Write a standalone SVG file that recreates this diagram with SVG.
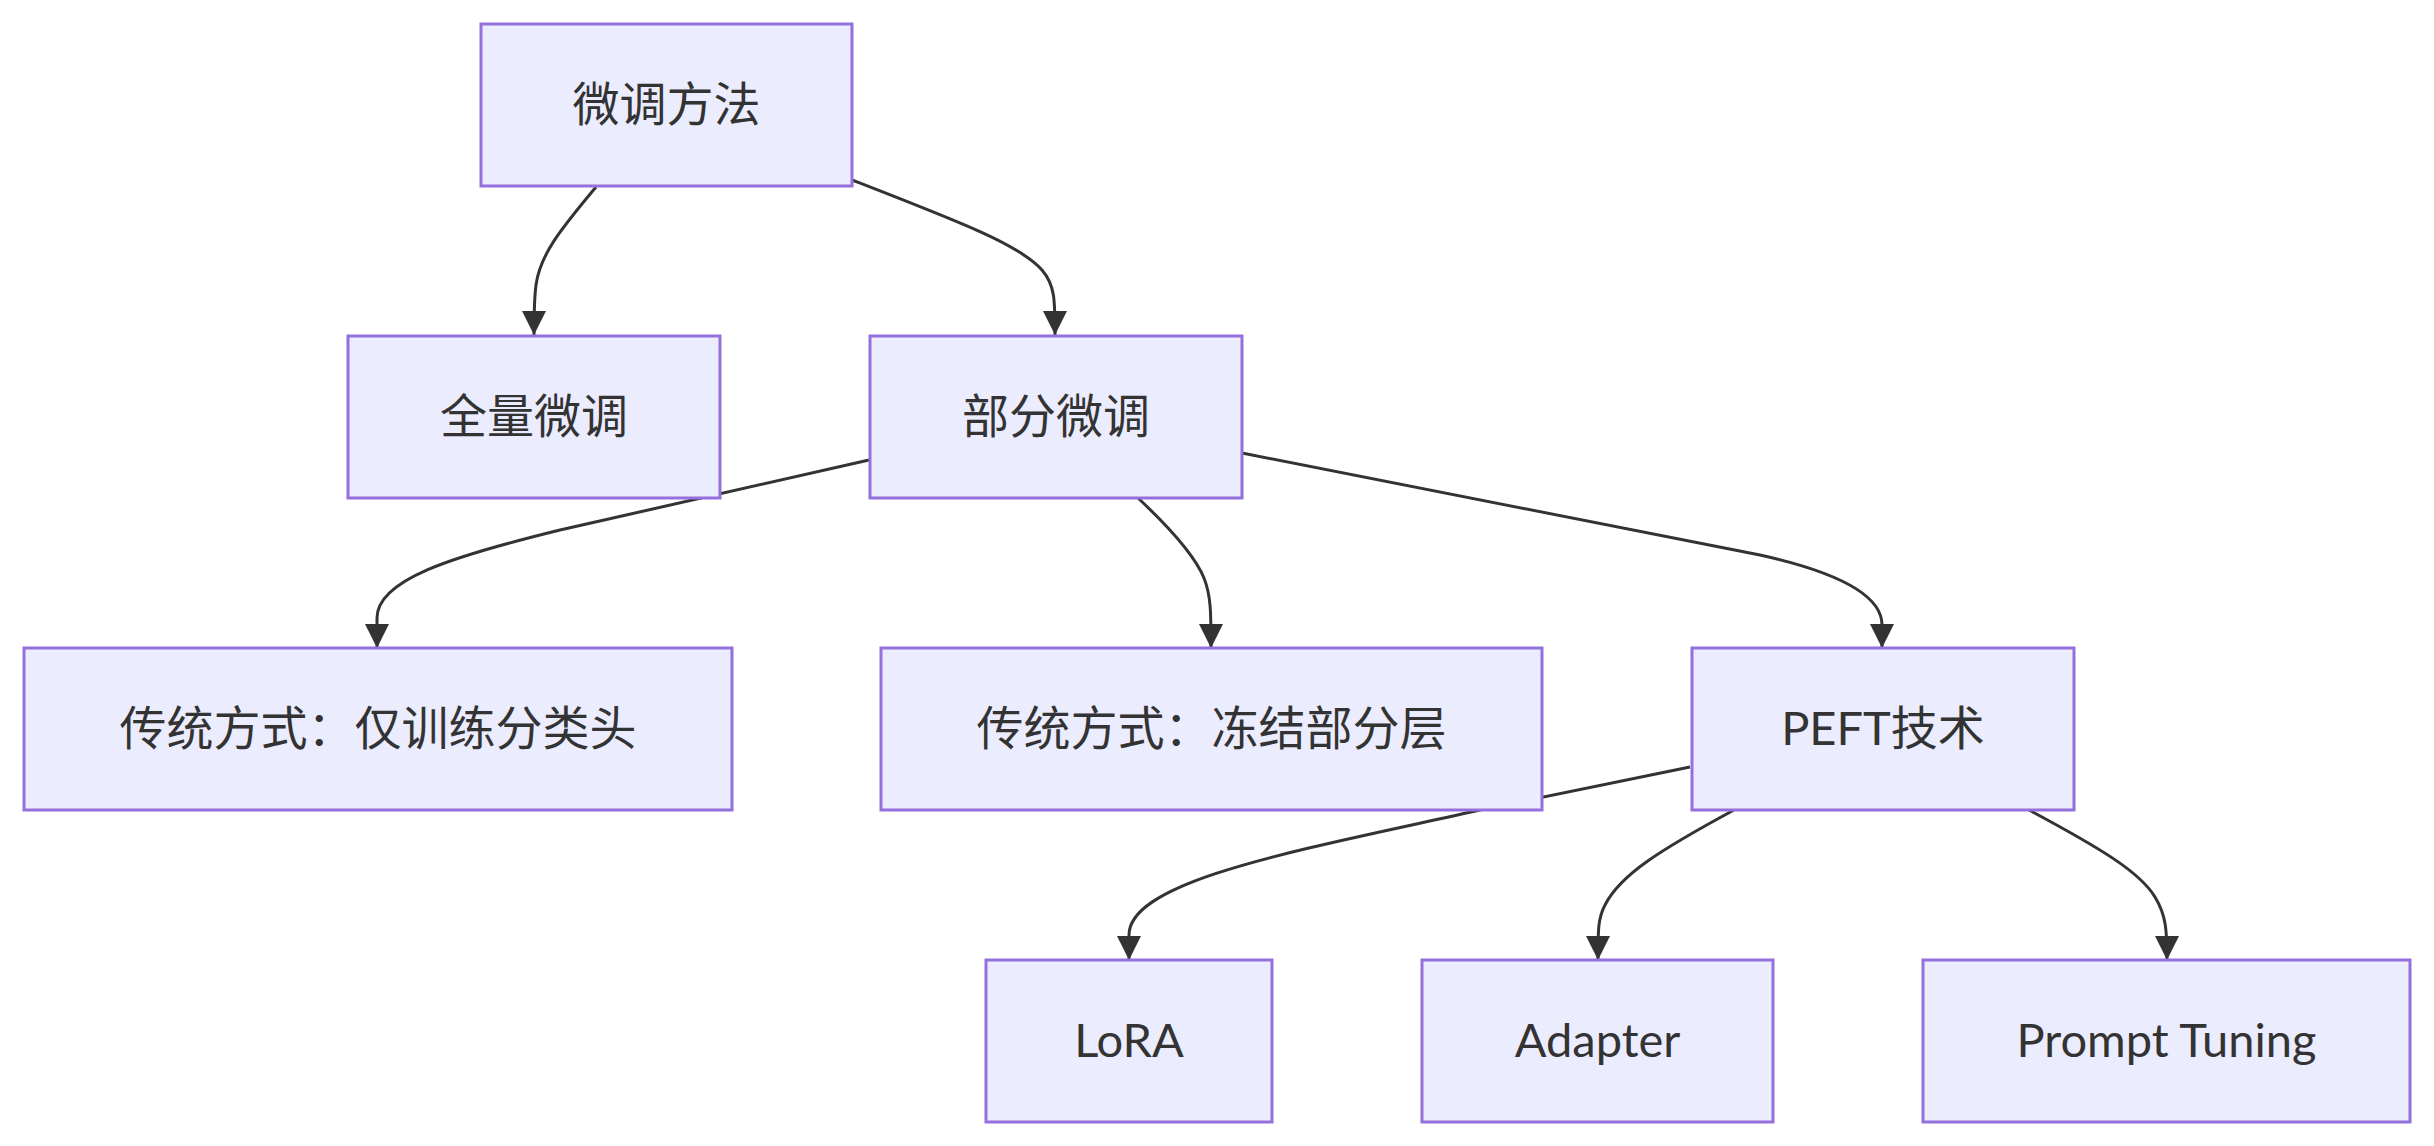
<svg xmlns="http://www.w3.org/2000/svg" width="2434" height="1146" viewBox="0 0 2434 1146">
<style>
.node rect{fill:#ECECFF;stroke:#9370DB;stroke-width:3;}
.node text{font-family:Lato,"Noto Sans CJK SC",sans-serif;font-size:47px;fill:#333333;text-anchor:middle;dominant-baseline:central;}
.edges path{fill:none;stroke:#333333;stroke-width:3;marker-end:url(#arrow);}
</style>
<defs>
<marker id="arrow" viewBox="0 0 10 10" refX="10" refY="5" markerUnits="userSpaceOnUse" markerWidth="24" markerHeight="24" orient="auto">
<path d="M0,0 L10,5 L0,10 z" fill="#333333"/>
</marker>
</defs>
<rect width="2434" height="1146" fill="#ffffff"/>
<g class="edges">
<path d="M596,187 C560,230 540,255 536,285 C534,300 534,315 534,335"/>
<path d="M852,180 C960,222 1020,245 1042,270 C1055,285 1055,300 1055,335"/>
<path d="M869,460 L560,530 C450,557 377,580 377,618 L377,648"/>
<path d="M1138,498 C1170,528 1195,556 1204,578 C1211,596 1211,612 1211,648"/>
<path d="M1242,453 L1760,555 C1850,575 1882,600 1882,625 L1882,648"/>
<path d="M1690,767 L1480,810 C1300,850 1129,880 1129,935 L1129,960"/>
<path d="M1734,810 C1660,850 1620,875 1605,905 C1598,918 1598,930 1598,960"/>
<path d="M2029,810 C2100,848 2140,872 2155,897 C2166,915 2167,930 2167,960"/>
</g>
<g id="n1" class="node"><rect x="481" y="24" width="371" height="162"/><text x="666.5" y="103">微调方法</text></g>
<g id="n2" class="node"><rect x="348" y="336" width="372" height="162"/><text x="534" y="415">全量微调</text></g>
<g id="n3" class="node"><rect x="870" y="336" width="372" height="162"/><text x="1056" y="415">部分微调</text></g>
<g id="n4" class="node"><rect x="24" y="648" width="708" height="162"/><text x="378" y="727">传统方式：仅训练分类头</text></g>
<g id="n5" class="node"><rect x="881" y="648" width="661" height="162"/><text x="1211.5" y="727">传统方式：冻结部分层</text></g>
<g id="n6" class="node"><rect x="1692" y="648" width="382" height="162"/><text x="1883" y="727">PEFT技术</text></g>
<g id="n7" class="node"><rect x="986" y="960" width="286" height="162"/><text x="1129" y="1039">LoRA</text></g>
<g id="n8" class="node"><rect x="1422" y="960" width="351" height="162"/><text x="1597.5" y="1039">Adapter</text></g>
<g id="n9" class="node"><rect x="1923" y="960" width="487" height="162"/><text x="2166.5" y="1039">Prompt Tuning</text></g>
</svg>
